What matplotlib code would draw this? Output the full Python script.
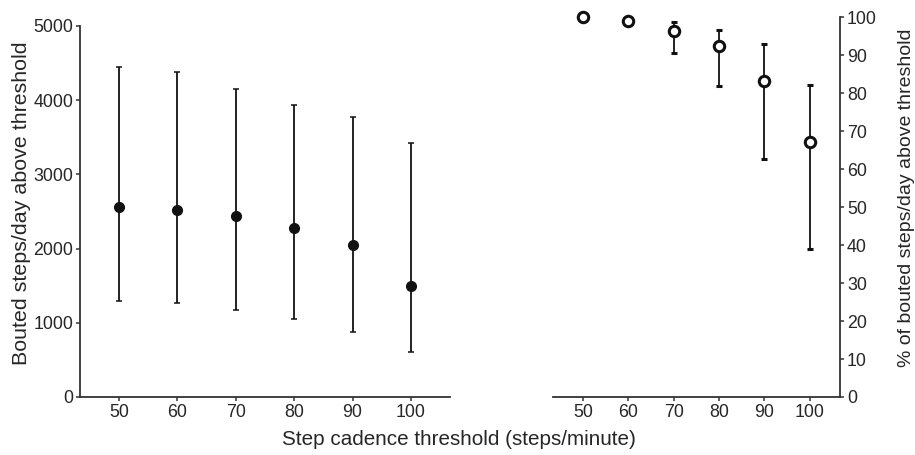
import matplotlib

matplotlib.use("Agg")
import matplotlib.pyplot as plt

plt.rcParams["font.family"] = ["Liberation Sans", "DejaVu Sans"]

# step cadence thresholds (steps/minute)
thresholds = [50, 60, 70, 80, 90, 100]

# left panel: bouted steps/day above threshold (median, lower, upper)
steps_mid = [2557, 2520, 2435, 2282, 2053, 1500]
steps_low = [1290, 1263, 1172, 1051, 872, 606]
steps_high = [4443, 4376, 4151, 3939, 3774, 3419]

# right panel: % of bouted steps/day above threshold
pct_mid = [100.0, 99.0, 96.3, 92.5, 83.1, 67.1]
pct_low = [99.8, 98.2, 90.7, 81.8, 62.7, 39.0]
pct_high = [100.0, 99.6, 98.7, 96.6, 92.9, 82.2]

ink = "#111111"
spine_col = "#333333"
text_col = "#262626"


def style_axis(ax):
    for side in ("top", "right", "left", "bottom"):
        ax.spines[side].set_color(spine_col)
        ax.spines[side].set_linewidth(1.3)
    ax.tick_params(direction="out", length=3, width=1.1, color=spine_col,
                   labelsize=12.8, labelcolor=text_col, pad=2)
    ax.set_xlim(43.3, 106.7)
    ax.set_xticks(thresholds)


fig = plt.figure(figsize=(9.15, 4.55), dpi=100)

ax1 = fig.add_axes([0.0874, 0.1275, 0.4044, 0.8154])
yerr1 = [[m - lo for m, lo in zip(steps_mid, steps_low)],
         [hi - m for m, hi in zip(steps_mid, steps_high)]]
ax1.errorbar(thresholds, steps_mid, yerr=yerr1, fmt="o", color=ink,
             markersize=7, elinewidth=1.3, capsize=2, capthick=1.1)
ax1.set_ylim(0, 5000)
ax1.set_yticks(range(0, 5001, 1000))
ax1.spines["top"].set_visible(False)
ax1.spines["right"].set_visible(False)
style_axis(ax1)

ax2 = fig.add_axes([0.604, 0.1275, 0.314, 0.8344])
yerr2 = [[m - lo for m, lo in zip(pct_mid, pct_low)],
         [hi - m for m, hi in zip(pct_mid, pct_high)]]
ax2.errorbar(thresholds, pct_mid, yerr=yerr2, fmt="o", color=ink,
             markerfacecolor="white", markeredgewidth=2.2, markersize=7.5,
             elinewidth=1.3, capsize=2, capthick=1.1)
ax2.set_ylim(0, 100)
ax2.set_yticks(range(0, 101, 10))
ax2.spines["top"].set_visible(False)
ax2.spines["left"].set_visible(False)
ax2.yaxis.tick_right()
style_axis(ax2)
for a in (ax1, ax2):
    for line in a.lines:
        line.set_clip_on(False)

fig.text(0.024, 0.553, "Bouted steps/day above threshold", rotation=90,
         ha="center", va="center", fontsize=15.4, color=text_col)
fig.text(0.9905, 0.566, "% of bouted steps/day above threshold", rotation=90,
         ha="center", va="center", fontsize=14, color=text_col)
fig.text(0.502, 0.033, "Step cadence threshold (steps/minute)", ha="center",
         va="center", fontsize=14.9, color=text_col)

fig.savefig("out.png", dpi=100)
